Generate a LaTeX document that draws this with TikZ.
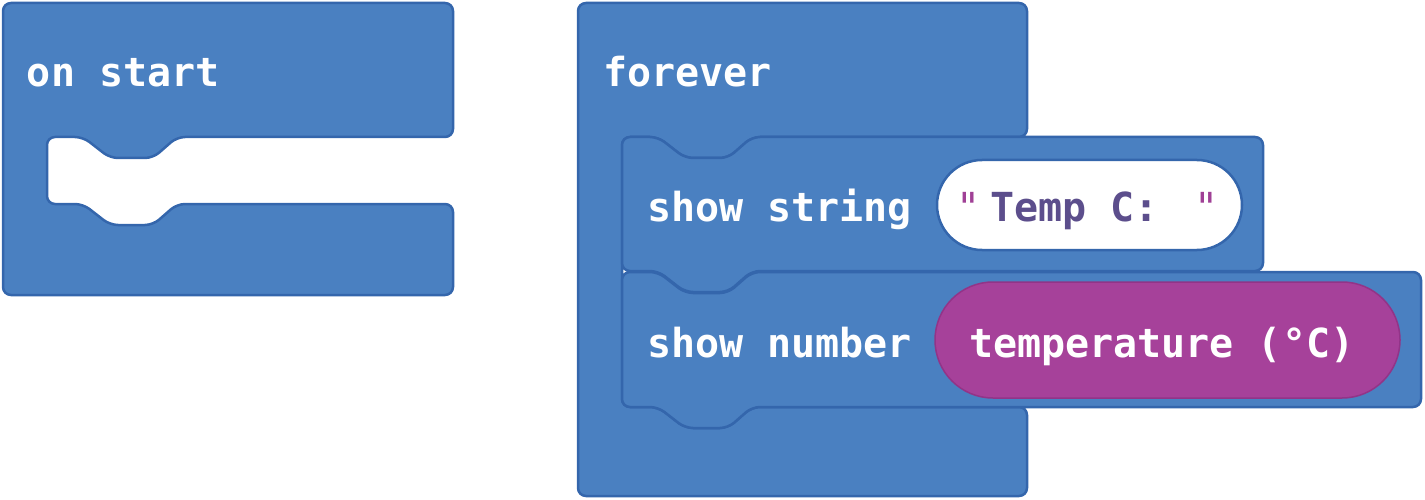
\documentclass[tikz,border=0pt]{standalone}
\usepackage{fontspec}
\newfontfamily\blockfont{DejaVu Sans Mono}
\definecolor{mbblue}{RGB}{74,128,193}
\definecolor{mbedge}{RGB}{52,102,172}
\definecolor{mbpurple}{RGB}{166,65,154}
\definecolor{mbpurpleedge}{RGB}{146,52,136}
\definecolor{strtext}{RGB}{92,78,140}
\definecolor{quotecol}{RGB}{160,64,150}
\tikzset{
  block/.style={fill=mbblue, draw=mbedge, line width=2.5pt, rounded corners=8pt, line join=round},
  blocklabel/.style={anchor=base west, inner sep=0pt, outer sep=0pt, text=white,
    font=\fontsize{40}{48}\selectfont\blockfont\bfseries},
  quotelabel/.style={anchor=base west, inner sep=0pt, outer sep=0pt, text=quotecol,
    font=\fontsize{40}{48}\selectfont\blockfont},
  strpill/.style={fill=white, draw=mbedge, line width=2.5pt, rounded corners=45pt,
    minimum width=305pt, minimum height=90pt, inner sep=0pt},
  numpill/.style={fill=mbpurple, draw=mbpurpleedge, line width=1.5pt, rounded corners=58pt,
    minimum width=465pt, minimum height=116pt, inner sep=0pt},
}
\begin{document}
\begin{tikzpicture}[x=1pt,y=-1pt]
\useasboundingbox (0,0) rectangle (1425,500);
% on start block
\draw[block] (3,3) -- (453,3) -- (453,137) -- (177,137) -- (153,158) -- (110,158) -- (83,137)
  -- (47,137) -- (47,204) -- (83,204) -- (110,225) -- (153,225) -- (177,204) -- (453,204)
  -- (453,295) -- (3,295) -- cycle;
\node[blocklabel] (onstart) at (27,87) {on start};
% forever block
\draw[block] (578,3) -- (1027,3) -- (1027,137) -- (752,137) -- (728,158) -- (685,158) -- (658,137)
  -- (622,137) -- (622,407) -- (658,407) -- (685,428) -- (728,428) -- (752,407) -- (1027,407)
  -- (1027,496) -- (578,496) -- cycle;
\node[blocklabel] (forever) at (603,87) {forever};
% show string block
\draw[block] (622,137) -- (658,137) -- (685,158) -- (728,158) -- (752,137) -- (1263,137)
  -- (1263,271) -- (752,271) -- (728,292) -- (685,292) -- (658,271) -- (622,271) -- cycle;
\node[blocklabel] (showstring) at (647,222) {show string};
\node[strpill] (strslot) at (1089.5,205) {};
\node[quotelabel] (q1) at (956,221) {"};
\node[blocklabel, text=strtext] (tempc) at (990,221) {Temp C:};
\node[quotelabel] (q2) at (1194,221) {"};
% show number block
\draw[block] (622,272) -- (658,272) -- (685,293) -- (728,293) -- (752,272) -- (1421,272)
  -- (1421,407) -- (752,407) -- (728,428) -- (685,428) -- (658,407) -- (622,407) -- cycle;
\node[blocklabel] (shownumber) at (647,357) {show number};
\node[numpill] (numslot) at (1167.5,340) {};
\node[blocklabel] (temperature) at (969,357) {temperature (°C)};
\end{tikzpicture}
\end{document}
